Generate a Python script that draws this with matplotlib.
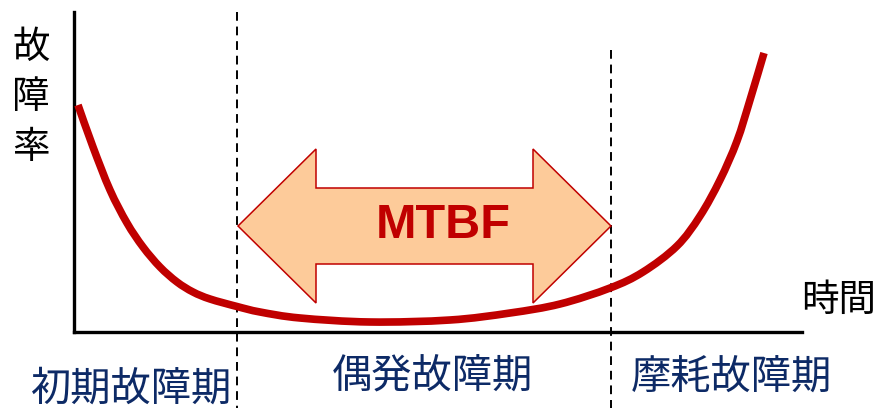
import matplotlib.pyplot as plt
from matplotlib.patches import Polygon, PathPatch
from matplotlib.path import Path

plt.rcParams['font.family'] = ['Noto Sans CJK JP', 'DejaVu Sans']

# bathtub curve (time, failure rate) in axis units
time = [4, 19, 36, 53, 69, 86, 103, 119, 136, 163, 186, 226, 296, 376,
        436, 486, 536, 569, 603, 626, 646, 663, 676, 690]
rate = [227, 185, 142, 109, 85, 65, 50, 40, 33, 25.5, 20, 14, 10, 12,
        19, 28, 44, 60, 86, 116, 152, 191, 232, 279]

# period boundaries on the time axis
early_end = 163
wear_start = 537

periods = ['初期故障期', '偶発故障期', '摩耗故障期']
period_x = [58, 358, 657]
period_y = [-57, -45, -45]

RED = '#C00000'
NAVY = '#0D2A66'


def smooth_path(xs, ys):
    # Catmull-Rom through the points, as cubic Bezier segments
    pts = list(zip(xs, ys))
    verts = [pts[0]]
    codes = [Path.MOVETO]
    for i in range(len(pts) - 1):
        p0 = pts[max(i - 1, 0)]
        p1, p2 = pts[i], pts[i + 1]
        p3 = pts[min(i + 2, len(pts) - 1)]
        c1 = (p1[0] + (p2[0] - p0[0]) / 6, p1[1] + (p2[1] - p0[1]) / 6)
        c2 = (p2[0] - (p3[0] - p1[0]) / 6, p2[1] - (p3[1] - p1[1]) / 6)
        verts += [c1, c2, p2]
        codes += [Path.CURVE4] * 3
    return Path(verts, codes)


fig = plt.figure(figsize=(8.81, 4.08), dpi=100)
ax = fig.add_axes([74 / 881, 76 / 408, 728 / 881, 320 / 408])
ax.set_xlim(0, 728)
ax.set_ylim(0, 320)
ax.set_xticks([])
ax.set_yticks([])
for s in ['top', 'right']:
    ax.spines[s].set_visible(False)
for s in ['left', 'bottom']:
    ax.spines[s].set_linewidth(2.4)
    ax.spines[s].set_color('black')

# dashed boundaries run below the axis into the label row
ax.plot([early_end, early_end], [320, -76], color='black', lw=1.4,
        dashes=(4.5, 3), clip_on=False, zorder=1)
ax.plot([wear_start, wear_start], [282, -76], color='black', lw=1.4,
        dashes=(4.5, 3), clip_on=False, zorder=1)

ax.add_patch(PathPatch(smooth_path(time, rate), facecolor='none',
                       edgecolor=RED, lw=5.5, capstyle='butt',
                       clip_on=False, zorder=3))

# MTBF double arrow between the boundaries
mid, shaft, head, head_len = 106, 38, 77, 78
l, r = early_end + 1, wear_start
arrow = [(l, mid), (l + head_len, mid + head), (l + head_len, mid + shaft),
         (r - head_len, mid + shaft), (r - head_len, mid + head), (r, mid),
         (r - head_len, mid - head), (r - head_len, mid - shaft),
         (l + head_len, mid - shaft), (l + head_len, mid - head)]
ax.add_patch(Polygon(arrow, closed=True, facecolor='#FDCB9A',
                     edgecolor=RED, lw=1.1, zorder=2))
ax.text(369, mid, 'MTBF', color=RED, fontsize=35,
        fontweight='bold', family='Liberation Sans', ha='center', va='center',
        zorder=4)

ax.text(-43, 304, '故\n障\n率', fontsize=27, ha='center', va='top',
        linespacing=1.37, clip_on=False)
ax.text(765, 32, '時間', fontsize=27, ha='center', va='center', clip_on=False)

for name, x, y in zip(periods, period_x, period_y):
    ax.text(x, y, name, fontsize=29, color=NAVY,
            ha='center', va='center', clip_on=False)

fig.savefig('out.png', dpi=100)
